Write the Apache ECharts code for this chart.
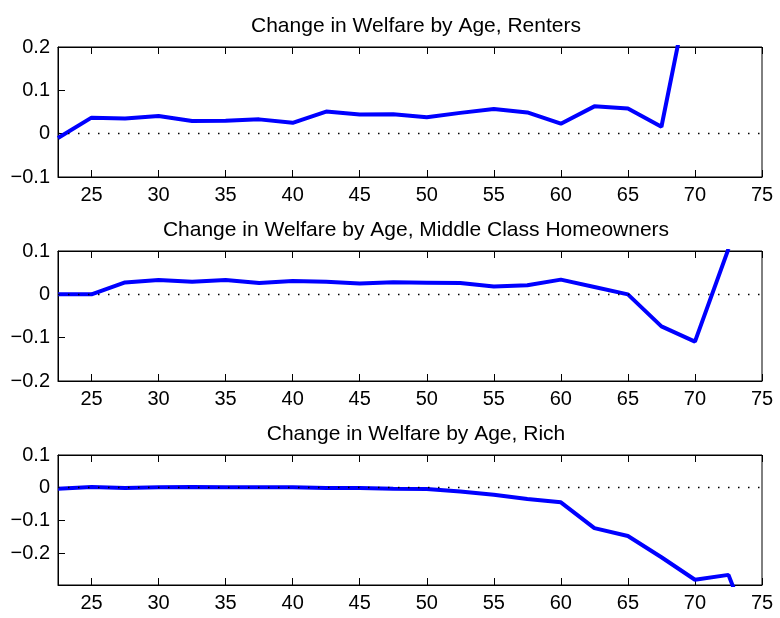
<!DOCTYPE html>
<html>
<head>
<meta charset="utf-8">
<script src="https://cdn.jsdelivr.net/npm/echarts@6/dist/echarts.min.js"></script>
<style>
  html, body { margin: 0; padding: 0; background: #fff; }
  #chart { width: 780px; height: 618px; }
</style>
</head>
<body>
<div id="chart"></div>
<script>
'use strict'

// ages on the x axis (one point every 2.5 years)
const ages = [22.5, 25, 27.5, 30, 32.5, 35, 37.5, 40, 42.5, 45, 47.5, 50,
              52.5, 55, 57.5, 60, 62.5, 65, 67.5, 70, 72.5, 75];

// change in welfare
const renters = [-0.010, 0.037, 0.035, 0.041, 0.029, 0.030, 0.033, 0.025, 0.051, 0.044, 0.045,
                 0.038, 0.048, 0.057, 0.049, 0.023, 0.063, 0.058, 0.016, 0.400];
const middleClass = [0, 0, 0.0275, 0.033, 0.029, 0.033, 0.026, 0.0305, 0.029, 0.025, 0.028,
                     0.027, 0.026, 0.018, 0.021, 0.034, 0.017, 0, -0.074, -0.109, 0.105];
const rich = [-0.003, 0.002, -0.001, 0.001, 0.002, 0.001, 0.001, 0.001, -0.001, -0.001, -0.003,
              -0.004, -0.012, -0.022, -0.035, -0.045, -0.124, -0.148, -0.213, -0.282, -0.267, -0.53];

const titles = [
    'Change in Welfare by Age, Renters',
    'Change in Welfare by Age, Middle Class Homeowners',
    'Change in Welfare by Age, Rich'
];

const xTicks = [25, 30, 35, 40, 45, 50, 55, 60, 65, 70, 75];
const yTicks = [
    [-0.1, 0, 0.1, 0.2],
    [-0.2, -0.1, 0, 0.1],
    [-0.2, -0.1, 0, 0.1]
];
const yRanges = [[-0.1, 0.2], [-0.2, 0.1], [-0.298, 0.1]];
const seriesValues = [renters, middleClass, rich];

const font = 'Liberation Sans, Arial, Helvetica, sans-serif';
const gridTops = [47, 251, 455];

function fmtY(v)
{
    if (Math.abs(v) < 1e-9) return '0';
    return v.toFixed(1).replace('-', '\u2212');
}

function makeAxis(k, pos, min, max, ticks, labelColor)
{
    const ax = {
        type: 'value',
        gridIndex: k,
        position: pos,
        min: min,
        max: max,
        axisLine: { show: true, onZero: false, lineStyle: { color: '#000', width: 1 } },
        axisTick: { show: true, inside: true, length: 7, customValues: ticks,
                    lineStyle: { color: '#000', width: 1 } },
        axisLabel: { show: true, customValues: ticks, color: labelColor,
                     fontFamily: font, fontSize: 20, margin: 8 },
        splitLine: { show: false }
    };
    if (pos === 'left') ax.axisLabel.formatter = fmtY;
    return ax;
}

const option = {
    animation: false,
    title: [],
    grid: [],
    xAxis: [],
    yAxis: [],
    series: []
};

for (let k = 0; k < 3; k++)
{
    option.title.push({
        text: titles[k],
        left: 411,
        top: gridTops[k] - 36,
        textAlign: 'center',
        textStyle: { fontFamily: font, fontSize: 21, fontWeight: 'normal', color: '#000' }
    });
    // grid border gives the right-hand edge of the box
    option.grid.push({
        left: 58, width: 704, top: gridTops[k], height: 130,
        show: true, borderColor: '#000', borderWidth: 1, backgroundColor: 'transparent'
    });

    option.xAxis.push(makeAxis(k, 'bottom', 22.5, 75, xTicks, '#000'));
    option.xAxis.push(makeAxis(k, 'top', 22.5, 75, xTicks, 'transparent'));
    option.yAxis.push(makeAxis(k, 'left', yRanges[k][0], yRanges[k][1], yTicks[k], '#000'));

    const vals = seriesValues[k];
    option.series.push({
        type: 'line',
        xAxisIndex: 2 * k,
        yAxisIndex: k,
        data: vals.map((v, i) => [ages[i], v]),
        symbol: 'none',
        clip: true,
        lineStyle: { color: '#0000ff', width: 4 },
        markLine: {
            silent: true,
            symbol: ['none', 'none'],
            label: { show: false },
            lineStyle: { color: '#000', width: 1.3, type: [1.5, 8.5] },
            data: [{ yAxis: 0 }]
        }
    });
}

const chart = echarts.init(document.getElementById('chart'));
chart.setOption(option);
</script>
</body>
</html>
